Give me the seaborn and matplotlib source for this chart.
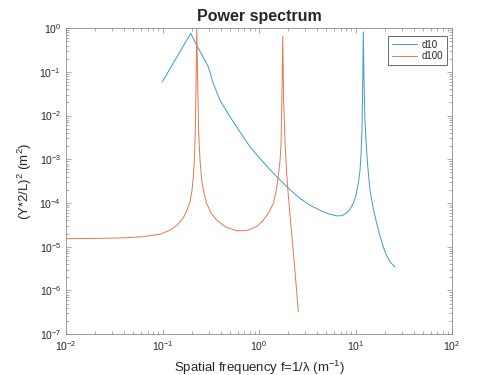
import pandas as pd
import matplotlib
matplotlib.use("Agg")
import matplotlib.pyplot as plt
import seaborn as sns

# d10 series (spatial frequency, power)
f_d10 = [0.0995, 0.196, 0.226, 0.2985, 0.3357, 0.394, 0.501, 0.635, 0.807, 1.023,
         1.30, 1.652, 2.094, 2.661, 3.373, 4.285, 5.188, 6.383, 7.244, 8.110,
         8.770, 9.484, 10.12, 10.69, 11.14, 11.40, 11.67, 11.90, 12.05, 12.25,
         12.53, 12.85, 13.24, 13.64, 14.13, 15.18, 16.60, 17.95, 19.41, 20.94,
         22.80, 25.64]
p_d10 = [0.0590, 0.757, 0.408, 0.130, 0.0543, 0.0225, 9.33e-3, 4.24e-3, 1.92e-3, 1.04e-3,
         5.78e-4, 3.33e-4, 2.02e-4, 1.27e-4, 8.91e-5, 6.84e-5, 5.69e-5, 5.07e-5, 5.12e-5, 5.93e-5,
         7.21e-5, 9.75e-5, 1.51e-4, 2.79e-4, 5.63e-4, 1.24e-3, 4.63e-3, 0.0646, 0.822, 0.0646,
         7.85e-3, 2.74e-3, 9.53e-4, 4.33e-4, 1.96e-4, 8.02e-5, 3.40e-5, 1.74e-5, 9.89e-6, 6.38e-6,
         4.49e-6, 3.45e-6]

# d100 series (spatial frequency, power)
f_d100 = [0.01, 0.01774, 0.02858, 0.04285, 0.0628, 0.0942, 0.1197, 0.1414, 0.1644, 0.1795,
          0.1928, 0.2023, 0.2084, 0.2138, 0.2188, 0.2229, 0.2265, 0.2312, 0.2366, 0.2449,
          0.2547, 0.2692, 0.2871, 0.3184, 0.3648, 0.455, 0.5875, 0.716, 0.807, 0.953,
          1.109, 1.254, 1.406, 1.500, 1.563, 1.611, 1.652, 1.690, 1.727, 1.762,
          1.799, 1.858, 1.936, 2.012, 2.094, 2.198, 2.304, 2.417, 2.553]
p_d100 = [1.524e-5, 1.542e-5, 1.567e-5, 1.607e-5, 1.694e-5, 1.932e-5, 2.388e-5, 3.10e-5, 4.61e-5, 6.84e-5,
          1.072e-4, 1.96e-4, 3.89e-4, 9.53e-4, 4.63e-3, 0.0646, 0.975, 0.0646, 4.63e-3, 9.53e-4,
          3.33e-4, 1.68e-4, 9.75e-5, 5.85e-5, 4.04e-5, 2.79e-5, 2.32e-5, 2.32e-5, 2.48e-5, 2.94e-5,
          4.04e-5, 5.85e-5, 9.75e-5, 1.77e-4, 3.33e-4, 5.63e-4, 9.53e-4, 2.10e-3, 0.0225, 0.656,
          0.0225, 2.74e-3, 4.73e-4, 1.51e-4, 5.26e-5, 1.65e-5, 5.18e-6, 1.46e-6, 3.22e-7]

df = pd.concat([
    pd.DataFrame({'f': f_d10, 'P': p_d10, 'series': 'd10'}),
    pd.DataFrame({'f': f_d100, 'P': p_d100, 'series': 'd100'}),
])

sns.set_theme(style="ticks")
plt.rcParams['font.family'] = ['Liberation Sans', 'DejaVu Sans']
plt.rcParams['mathtext.fontset'] = 'custom'
plt.rcParams['mathtext.rm'] = 'Liberation Sans'
plt.rcParams['mathtext.it'] = 'Liberation Sans:italic'

fig = plt.figure(figsize=(5, 3.75), dpi=100)
ax = fig.add_axes([0.132, 0.109, 0.772, 0.816])

sns.lineplot(data=df, x='f', y='P', hue='series', palette=['#3d98d3', '#e5774f'],
             estimator=None, sort=False, linewidth=0.7, ax=ax)

ax.set_xscale('log')
ax.set_yscale('log')
ax.set_xlim(1e-2, 1e2)
ax.set_ylim(1e-7, 1e0)

grey = '#262626'
for s in ax.spines.values():
    s.set_visible(True)
    s.set_color('#8c8c8c')
    s.set_linewidth(0.6)
ax.tick_params(which='both', direction='in', top=True, right=True, colors='#8c8c8c',
               labelcolor=grey, labelsize=7.5, width=0.5)
ax.tick_params(which='major', length=3.5)
ax.tick_params(which='minor', length=2)
ax.xaxis.set_minor_locator(matplotlib.ticker.LogLocator(base=10, subs=range(2, 10), numticks=20))
ax.yaxis.set_minor_locator(matplotlib.ticker.LogLocator(base=10, subs=range(2, 10), numticks=20))
ax.yaxis.set_major_locator(matplotlib.ticker.LogLocator(base=10, numticks=20))

ax.set_title('Power spectrum', fontsize=11.5, fontweight='bold', pad=5)
ax.set_xlabel('Spatial frequency f=1/λ (m$^{-1}$)', fontsize=9.5, color=grey, labelpad=4)
ax.set_ylabel('(Y*2/L)$^2$ (m$^2$)', fontsize=9.5, color=grey)

handles, labels = ax.get_legend_handles_labels()
leg = ax.legend(handles, labels, loc='upper right', fontsize=7, frameon=True, fancybox=False,
                borderpad=0.4, handlelength=2.6, handletextpad=0.5, labelspacing=0.15,
                borderaxespad=0.3, bbox_to_anchor=(0.995, 0.985))
leg.get_frame().set_edgecolor('#262626')
leg.get_frame().set_linewidth(0.6)

fig.savefig('out.png', dpi=100)
